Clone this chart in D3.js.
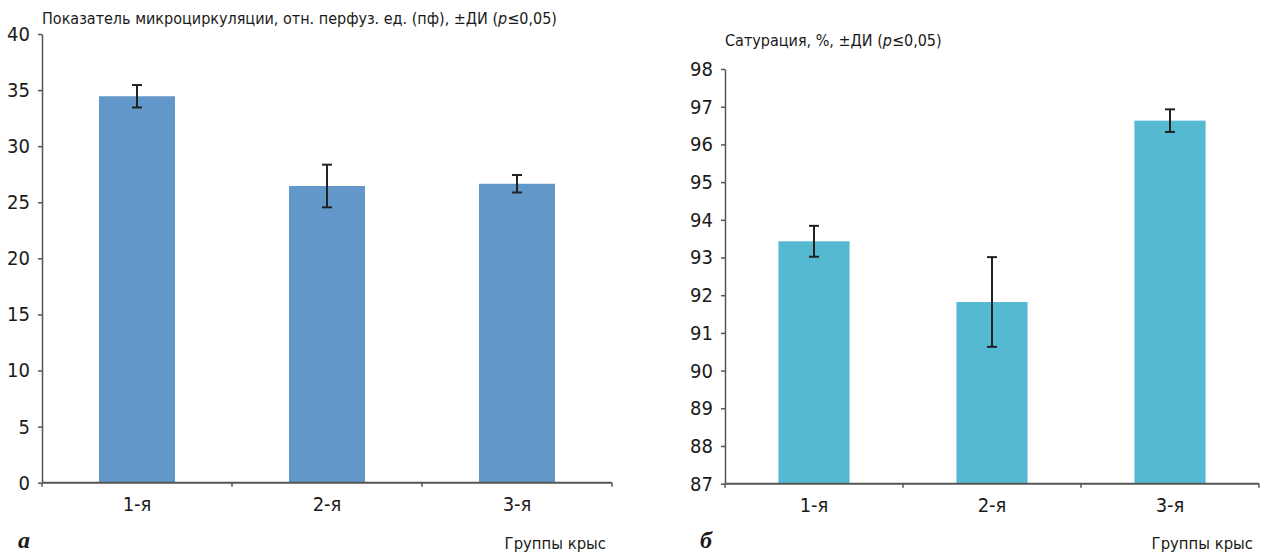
<!DOCTYPE html>
<html>
<head>
<meta charset="utf-8">
<style>
  body { margin: 0; background: #fff; }
  svg text { font-family: "Liberation Sans Narrow", "DejaVu Sans Condensed", "Roboto", sans-serif; fill: #1a1a1a; }
</style>
</head>
<body>
<svg id="chart" width="1265" height="556"></svg>
<script src="https://cdn.jsdelivr.net/npm/d3@7"></script>
<script>
// groups of rats
var groups = ["1-я", "2-я", "3-я"];

// panel a: microcirculation, perfusion units
var microValues = [34.45, 26.45, 26.65];
var microCI = [1.0, 1.9, 0.78];
var microTicks = [0, 5, 10, 15, 20, 25, 30, 35, 40];

// panel б: saturation, %
var satValues = [93.43, 91.82, 96.63];
var satCI = [0.41, 1.19, 0.3];
var satTicks = [87, 88, 89, 90, 91, 92, 93, 94, 95, 96, 97, 98];

var svg = d3.select("#chart");

function panel(opt) {
  var x = d3.scaleBand().domain(groups).range([opt.left, opt.right]).paddingInner(0.6).paddingOuter(0.3);
  var y = d3.scaleLinear().domain(opt.domain).range([opt.bottom, opt.top]);

  var g = svg.append("g");

  // bars
  g.selectAll("rect.bar")
    .data(opt.values)
    .enter().append("rect")
    .attr("class", "bar")
    .attr("x", function(d, i) { return x(groups[i]); })
    .attr("width", x.bandwidth())
    .attr("y", function(d) { return y(d); })
    .attr("height", function(d) { return y(opt.domain[0]) - y(d); })
    .attr("fill", opt.color);

  // error bars
  var eb = g.selectAll("g.err")
    .data(opt.values)
    .enter().append("g")
    .attr("class", "err")
    .attr("stroke", "#222")
    .attr("stroke-width", 2);
  eb.append("line")
    .attr("x1", function(d, i) { return x(groups[i]) + x.bandwidth() / 2; })
    .attr("x2", function(d, i) { return x(groups[i]) + x.bandwidth() / 2; })
    .attr("y1", function(d, i) { return y(d + opt.ci[i]); })
    .attr("y2", function(d, i) { return y(d - opt.ci[i]); });
  [1, -1].forEach(function(s) {
    eb.append("line")
      .attr("x1", function(d, i) { return x(groups[i]) + x.bandwidth() / 2 - 5; })
      .attr("x2", function(d, i) { return x(groups[i]) + x.bandwidth() / 2 + 5; })
      .attr("y1", function(d, i) { return y(d + s * opt.ci[i]); })
      .attr("y2", function(d, i) { return y(d + s * opt.ci[i]); });
  });

  // y axis
  var ya = g.append("g")
    .attr("transform", "translate(" + opt.left + ",0)")
    .call(d3.axisLeft(y).tickValues(opt.ticks).tickSize(4).tickSizeOuter(0).tickPadding(8));
  ya.select(".domain").attr("stroke", "#555").attr("stroke-width", 1.5);
  ya.selectAll(".tick line").attr("stroke", "#555").attr("stroke-width", 1.5);
  ya.selectAll(".tick text").attr("font-size", 20).attr("fill", "#1a1a1a").attr("font-family", null);

  // x axis with ticks between categories
  var xa = g.append("g")
    .attr("transform", "translate(0," + opt.bottom + ")")
    .call(d3.axisBottom(x).tickSize(0).tickPadding(14));
  xa.select(".domain").attr("stroke", "#555").attr("stroke-width", 2).attr("d", "M" + opt.left + ",0H" + opt.right);
  xa.selectAll(".tick text").attr("font-size", 20).attr("fill", "#1a1a1a").attr("font-family", null).attr("dy", "0.71em");
  var bounds = d3.range(groups.length + 1).map(function(i) { return opt.left + i * x.step(); });
  g.selectAll("line.sep")
    .data(bounds)
    .enter().append("line")
    .attr("class", "sep")
    .attr("x1", function(d) { return d; })
    .attr("x2", function(d) { return d; })
    .attr("y1", opt.bottom)
    .attr("y2", opt.bottom + 4)
    .attr("stroke", "#555")
    .attr("stroke-width", 1.5);

  // titles
  g.append("text")
    .attr("x", opt.left)
    .attr("y", opt.titleY)
    .attr("font-size", 16)
    .html(opt.title);
  g.append("text")
    .attr("x", opt.right - 6)
    .attr("y", 549)
    .attr("text-anchor", "end")
    .attr("font-size", 16.5)
    .text("Группы крыс");
  g.append("text")
    .attr("x", opt.letterX)
    .attr("y", 548)
    .attr("font-size", 24)
    .attr("font-style", "italic")
    .attr("font-weight", "bold")
    .style("font-family", "'Liberation Serif', 'DejaVu Serif', serif")
    .text(opt.letter);
}

panel({
  left: 42, right: 612, top: 34, bottom: 482.7,
  domain: [0, 40], ticks: microTicks,
  values: microValues, ci: microCI,
  color: "#6197c9",
  title: "Показатель микроциркуляции, отн. перфуз. ед. (пф), ±ДИ (<tspan font-style='italic'>p</tspan>≤0,05)",
  titleY: 24,
  letter: "а", letterX: 18
});

panel({
  left: 725, right: 1259, top: 69, bottom: 483.7,
  domain: [87, 98], ticks: satTicks,
  values: satValues, ci: satCI,
  color: "#56b9d2",
  title: "Сатурация, %, ±ДИ (<tspan font-style='italic'>p</tspan>≤0,05)",
  titleY: 46,
  letter: "б", letterX: 700
});
</script>
</body>
</html>
